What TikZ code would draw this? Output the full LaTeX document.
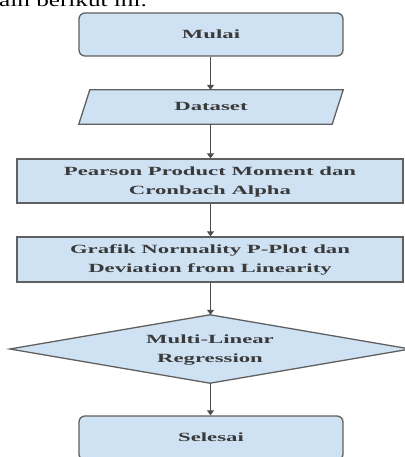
\documentclass[tikz,border=0pt]{standalone}
\usepackage{fontspec}
\setmainfont{Liberation Serif}
\usepackage{graphicx}
\usetikzlibrary{arrows.meta,backgrounds}
\definecolor{boxfill}{HTML}{CFE2F3}
\definecolor{boxline}{HTML}{606060}
\definecolor{txtcol}{HTML}{3A3A3A}
\newcommand{\widetxt}[1]{\scalebox{1.82}[1]{\fontsize{12.5}{19}\selectfont\bfseries\begin{tabular}{@{}c@{}}#1\end{tabular}}}
\tikzset{
  shapeline/.style={draw=boxline, line width=1.3pt, fill=boxfill},
  termbox/.style={shapeline, rounded corners=6pt, minimum width=264pt, minimum height=43pt, inner sep=0pt, text=txtcol},
  procbox/.style={shapeline, minimum width=386pt, minimum height=44pt, inner sep=0pt, text=txtcol},
  ghost/.style={inner sep=0pt, text=txtcol},
  flowarrow/.style={draw=boxline!80!black, line width=1.1pt, -{Triangle[length=5pt,width=7pt]}}
}
\begin{document}
\begin{tikzpicture}[x=1pt,y=-1pt]
\useasboundingbox (0,0) rectangle (404,457);
\clip (0,0) rectangle (404,457);
\node[anchor=base west, inner sep=0pt] (top) at (-1,7) {\scalebox{1.4}[1]{\fontsize{18}{20}\selectfont ain berikut ini.}};
\node[termbox] (mulai) at (211,34.5) {\widetxt{Mulai}};
\node[ghost, minimum width=253pt, minimum height=34pt] (data) at (211,107) {\widetxt{Dataset}};
\node[procbox] (pearson) at (210,181) {\widetxt{Pearson Product Moment dan\\Cronbach Alpha}};
\node[procbox, minimum height=45pt] (grafik) at (210,259.5) {\widetxt{Grafik Normality P-Plot dan\\Deviation from Linearity}};
\node[ghost, minimum width=400pt, minimum height=68pt] (mlr) at (210,349) {\widetxt{Multi-Linear\\Regression}};
\node[termbox, minimum height=44pt] (selesai) at (211,438) {\widetxt{Selesai}};
\begin{scope}[on background layer]
\draw[shapeline] ([xshift=5.5pt]data.north west) -- ([xshift=5.5pt]data.north east) -- ([xshift=-5.5pt]data.south east) -- ([xshift=-5.5pt]data.south west) -- cycle;
\draw[shapeline] (mlr.west) -- (mlr.north) -- (mlr.east) -- (mlr.south) -- cycle;
\end{scope}
\draw[flowarrow] (mulai.south -| 210.5,0) -- (data.north -| 210.5,0);
\draw[flowarrow] (data.south -| 210.5,0) -- (pearson.north -| 210.5,0);
\draw[flowarrow] (pearson.south -| 210.5,0) -- (grafik.north -| 210.5,0);
\draw[flowarrow] (grafik.south -| 210.5,0) -- (mlr.north -| 210.5,0);
\draw[flowarrow] (mlr.south -| 210.5,0) -- (selesai.north -| 210.5,0);
\end{tikzpicture}
\end{document}
